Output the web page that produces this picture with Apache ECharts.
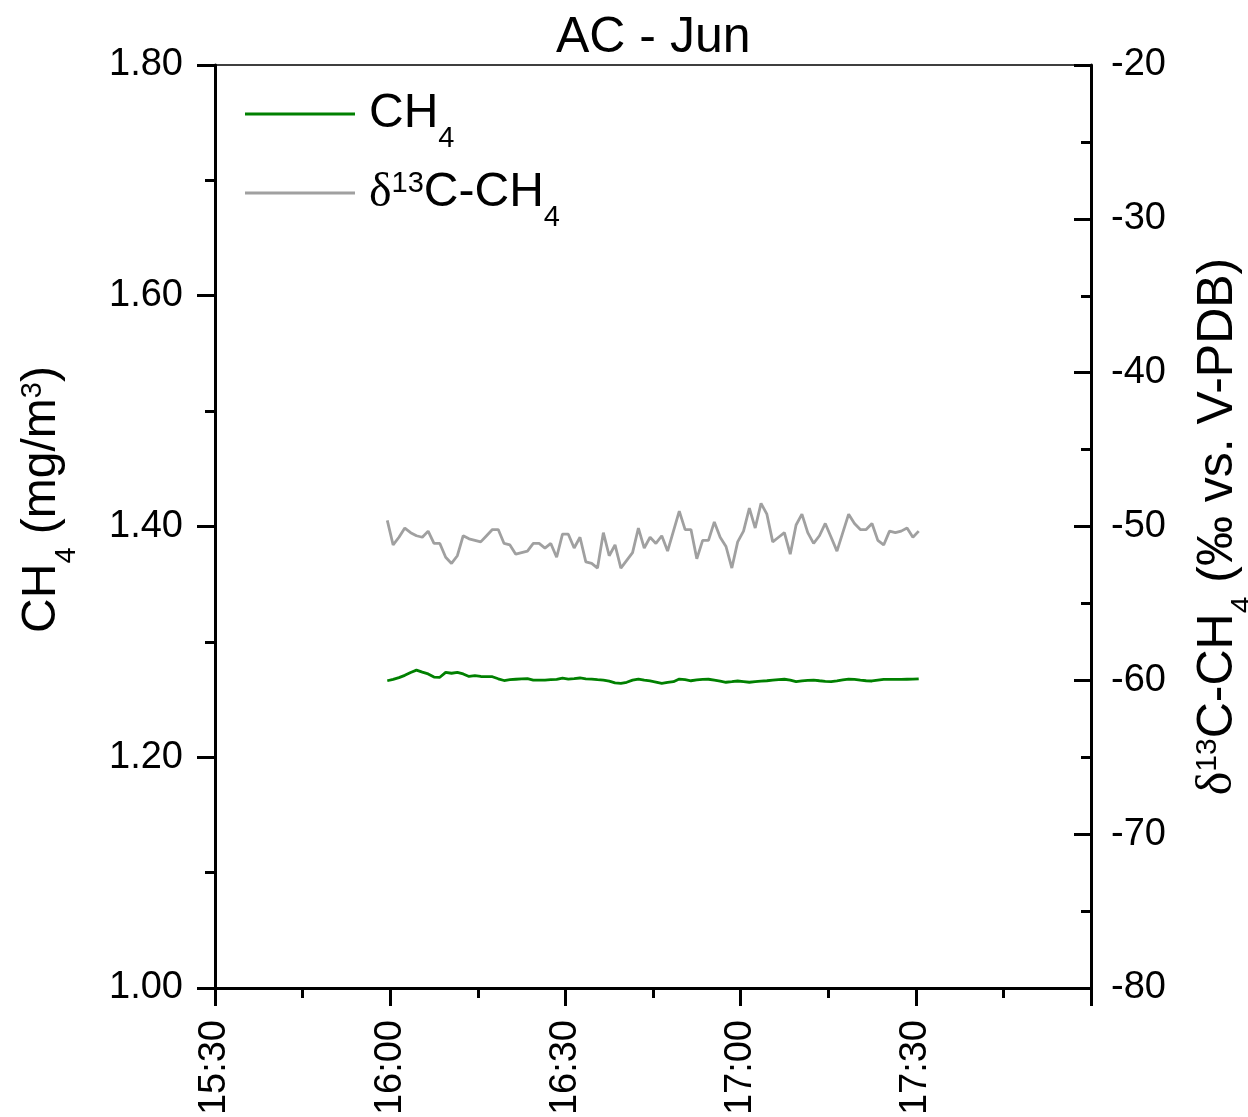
<!DOCTYPE html>
<html>
<head>
<meta charset="utf-8">
<title>AC - Jun</title>
<script src="https://cdn.jsdelivr.net/npm/echarts@6/dist/echarts.min.js"></script>
<style>
  html, body { margin: 0; padding: 0; background: #fff; }
  #chart { width: 1248px; height: 1117px; }
</style>
</head>
<body>
<div id="chart"></div>
<script>
// sample times (one reading per minute)
const times = [
  '15:59:30',
  '16:00:30', '16:01:30', '16:02:30', '16:03:30', '16:04:30', '16:05:30', '16:06:30', '16:07:30', '16:08:30', '16:09:30',
  '16:10:30', '16:11:30', '16:12:30', '16:13:30', '16:14:30', '16:15:30', '16:16:30', '16:17:30', '16:18:30', '16:19:30',
  '16:20:30', '16:21:30', '16:22:30', '16:23:30', '16:24:30', '16:25:30', '16:26:30', '16:27:30', '16:28:30', '16:29:30',
  '16:30:30', '16:31:30', '16:32:30', '16:33:30', '16:34:30', '16:35:30', '16:36:30', '16:37:30', '16:38:30', '16:39:30',
  '16:40:30', '16:41:30', '16:42:30', '16:43:30', '16:44:30', '16:45:30', '16:46:30', '16:47:30', '16:48:30', '16:49:30',
  '16:50:30', '16:51:30', '16:52:30', '16:53:30', '16:54:30', '16:55:30', '16:56:30', '16:57:30', '16:58:30', '16:59:30',
  '17:00:30', '17:01:30', '17:02:30', '17:03:30', '17:04:30', '17:05:30', '17:06:30', '17:07:30', '17:08:30', '17:09:30',
  '17:10:30', '17:11:30', '17:12:30', '17:13:30', '17:14:30', '17:15:30', '17:16:30', '17:17:30', '17:18:30', '17:19:30',
  '17:20:30', '17:21:30', '17:22:30', '17:23:30', '17:24:30', '17:25:30', '17:26:30', '17:27:30', '17:28:30', '17:29:30',
  '17:30:30'
];

// CH4 concentration, mg/m3
const ch4 = [
  1.2663,
  1.2675, 1.2690, 1.2710, 1.2735, 1.2755, 1.2738, 1.2722, 1.2695, 1.2693, 1.2736,
  1.2728, 1.2736, 1.2722, 1.2700, 1.2707, 1.2700, 1.2698, 1.2698, 1.2680, 1.2665,
  1.2672, 1.2676, 1.2680, 1.2682, 1.2669, 1.2669, 1.2669, 1.2672, 1.2675, 1.2685,
  1.2678, 1.2682, 1.2687, 1.2680, 1.2678, 1.2672, 1.2669, 1.2660, 1.2645, 1.2641,
  1.2650, 1.2668, 1.2678, 1.2668, 1.2661, 1.2652, 1.2641, 1.2648, 1.2655, 1.2678,
  1.2672, 1.2663, 1.2670, 1.2675, 1.2676, 1.2668, 1.2660, 1.2650, 1.2655, 1.2661,
  1.2656, 1.2650, 1.2655, 1.2660, 1.2663, 1.2668, 1.2673, 1.2676, 1.2668, 1.2655,
  1.2662, 1.2667, 1.2669, 1.2663, 1.2658, 1.2655, 1.2662, 1.2670, 1.2678, 1.2675,
  1.2668, 1.2663, 1.2661, 1.2668, 1.2675, 1.2675, 1.2675, 1.2675, 1.2676, 1.2677,
  1.2680
];

// d13C-CH4, permil vs. V-PDB
const d13c = [
  -49.6,
  -51.2, -50.7, -50.1, -50.4, -50.6, -50.7, -50.3, -51.1, -51.1, -52.0,
  -52.4, -51.9, -50.6, -50.8, -50.9, -51.0, -50.6, -50.2, -50.2, -51.1,
  -51.2, -51.8, -51.7, -51.6, -51.1, -51.1, -51.4, -51.1, -52.0, -50.5,
  -50.5, -51.4, -50.7, -52.3, -52.4, -52.7, -50.4, -51.9, -51.2, -52.7,
  -52.2, -51.7, -50.1, -51.4, -50.7, -51.1, -50.6, -51.6, -50.3, -49.0,
  -50.2, -50.2, -52.1, -50.9, -50.9, -49.7, -50.7, -51.3, -52.7, -51.0,
  -50.3, -48.8, -50.1, -48.5, -49.2, -51.0, -50.7, -50.4, -51.8, -49.9,
  -49.2, -50.4, -51.1, -50.6, -49.8, -50.7, -51.6, -50.4, -49.2, -49.8,
  -50.2, -50.2, -49.8, -50.9, -51.2, -50.3, -50.4, -50.3, -50.1, -50.7,
  -50.3
];

const FONT = '"Liberation Sans", Arial, sans-serif';

function toMin(t) {
  const p = t.split(':').map(Number);
  return p[0] * 60 + p[1] + (p[2] || 0) / 60;
}
function fmtTime(v) {
  const h = Math.floor(v / 60);
  const m = Math.round(v - h * 60);
  return h + ':' + (m < 10 ? '0' + m : m);
}

function richText(size) {
  const s = Math.round(size * 0.6);
  return {
    m: { fontSize: size, fontFamily: FONT, color: '#000', lineHeight: size, verticalAlign: 'top' },
    d: { fontSize: size, fontFamily: '"Liberation Serif", serif', color: '#000', lineHeight: size, verticalAlign: 'top' },
    sub: { fontSize: s, fontFamily: FONT, color: '#000', lineHeight: s, padding: [Math.round(size * 0.7), 0, 0, 0], verticalAlign: 'top' },
    sup: { fontSize: s, fontFamily: FONT, color: '#000', lineHeight: s, padding: [0, 0, 4, 0], verticalAlign: 'top' }
  };
}

const chart = echarts.init(document.getElementById('chart'));

const option = {
  animation: false,
  backgroundColor: '#fff',
  title: {
    text: 'AC - Jun',
    left: 551,
    top: 8,
    textStyle: { fontSize: 50, fontWeight: 'normal', fontFamily: FONT, color: '#000' }
  },
  legend: {
    orient: 'vertical',
    left: 240,
    top: 85,
    itemWidth: 110,
    itemHeight: 3,
    itemGap: 16,
    icon: 'rect',
    data: ['CH4', 'd13C'],
    formatter: function (name) {
      return name === 'CH4' ? '{m|CH}{sub|4}' : '{d|δ}{sup|13}{m|C-CH}{sub|4}';
    },
    textStyle: { padding: [0, 0, 0, 9], rich: richText(48) }
  },
  grid: {
    left: 215,
    right: 157,
    top: 65,
    bottom: 129,
    containLabel: false,
    outerBoundsMode: 'none',
    show: true,
    borderColor: '#000',
    borderWidth: 1.5,
    backgroundColor: 'transparent'
  },
  xAxis: {
    type: 'value',
    min: 930,
    max: 1080,
    interval: 30,
    splitLine: { show: false },
    axisLine: { onZero: false, lineStyle: { color: '#000', width: 3 } },
    axisTick: { length: 18, lineStyle: { color: '#000', width: 3 } },
    minorTick: { show: true, splitNumber: 2, length: 10, lineStyle: { color: '#000', width: 3 } },
    axisLabel: {
      rotate: 90,
      margin: 32,
      showMaxLabel: false,
      fontSize: 38,
      fontFamily: FONT,
      color: '#000',
      formatter: fmtTime
    }
  },
  yAxis: [
    {
      type: 'value',
      position: 'left',
      min: 1.0,
      max: 1.8,
      interval: 0.2,
      splitLine: { show: false },
      axisLine: { show: true, lineStyle: { color: '#000', width: 3 } },
      axisTick: { show: true, length: 18, lineStyle: { color: '#000', width: 3 } },
      minorTick: { show: true, splitNumber: 2, length: 10, lineStyle: { color: '#000', width: 3 } },
      axisLabel: {
        margin: 32,
        fontSize: 38,
        fontFamily: FONT,
        color: '#000',
        formatter: function (v) { return v.toFixed(2); }
      },
      name: '{m|CH}{sub|4}{m| (mg/m}{sup|3}{m|)}',
      nameLocation: 'middle',
      nameRotate: 90,
      nameGap: 149,
      nameTextStyle: { padding: [0, 0, 0, 54], rich: richText(48) }
    },
    {
      type: 'value',
      position: 'right',
      min: -80,
      max: -20,
      interval: 10,
      splitLine: { show: false },
      axisLine: { show: true, lineStyle: { color: '#000', width: 3 } },
      axisTick: { show: true, inside: true, length: 17, lineStyle: { color: '#000', width: 3 } },
      minorTick: { show: true, splitNumber: 2, length: 10, lineStyle: { color: '#000', width: 3 } },
      axisLabel: {
        margin: 20,
        fontSize: 38,
        fontFamily: FONT,
        color: '#000'
      },
      name: '{d|δ}{sup|13}{m|C-CH}{sub|4}{m| (‰ vs. V-PDB)}',
      nameLocation: 'middle',
      nameRotate: 90,
      nameGap: 102,
      nameTextStyle: { rich: richText(50) }
    }
  ],
  series: [
    {
      name: 'CH4',
      type: 'line',
      yAxisIndex: 0,
      showSymbol: false,
      symbol: 'none',
      color: '#008000',
      lineStyle: { color: '#008000', width: 2.8 },
      data: times.map((t, i) => [toMin(t), ch4[i]])
    },
    {
      name: 'd13C',
      type: 'line',
      yAxisIndex: 1,
      showSymbol: false,
      symbol: 'none',
      color: '#a0a0a0',
      lineStyle: { color: '#a0a0a0', width: 2.8 },
      data: times.map((t, i) => [toMin(t), d13c[i]])
    }
  ]
};

chart.setOption(option);
window.addEventListener('resize', () => chart.resize());
</script>
</body>
</html>
